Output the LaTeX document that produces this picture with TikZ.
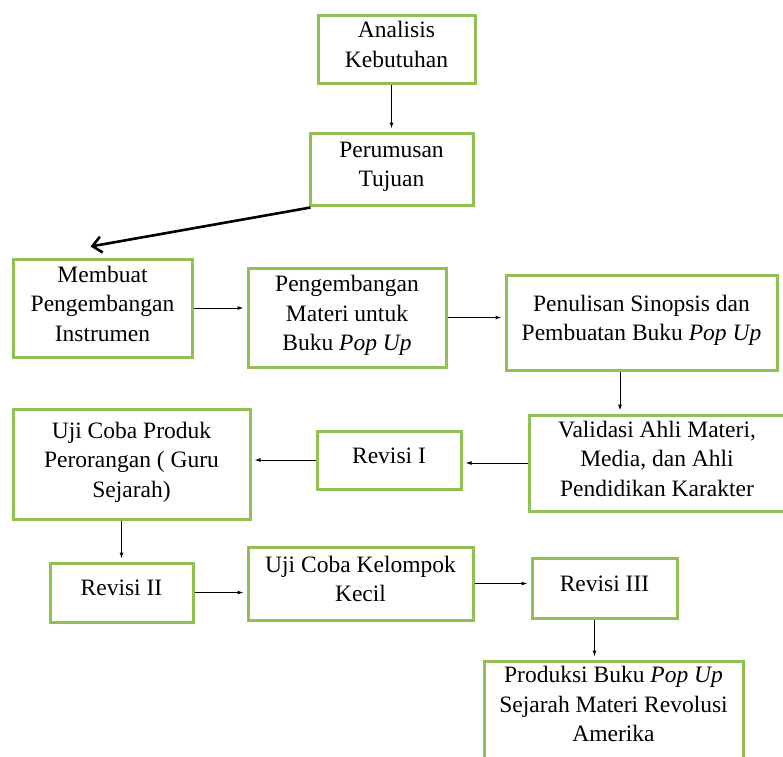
\documentclass[tikz,border=0pt]{standalone}
\usepackage{fontspec}
\setmainfont{Liberation Serif}
\usetikzlibrary{arrows.meta}

\definecolor{boxgreen}{RGB}{146,192,82}

\begin{document}
\begin{tikzpicture}[
  x=1pt, y=-1pt,
  box/.style={draw=boxgreen, line width=3pt, align=center, inner sep=2pt,
    text depth=9pt, font=\fontsize{23.5}{29.5}\selectfont},
  arrow/.style={-{Latex[length=6pt,width=4pt]}, line width=1pt, shorten >=3pt},
  bigarrow/.style={-{Straight Barb[length=9pt,width=16pt]}, line width=2.6pt}
]
\useasboundingbox (0,0) rectangle (783,756);

\node[box, minimum width=157pt, minimum height=68pt] (ana) at (396.5,49) {Analisis\\Kebutuhan};
\node[box, minimum width=163pt, minimum height=72pt] (per) at (391.5,169) {Perumusan\\Tujuan};
\node[box, minimum width=179pt, minimum height=98pt] (ins) at (102.5,308) {Membuat\\Pengembangan\\Instrumen};
\node[box, minimum width=198pt, minimum height=99pt] (mat) at (347,317.5) {Pengembangan\\Materi untuk\\Buku \textit{Pop Up}};
\node[box, minimum width=271pt, minimum height=95pt] (sin) at (641.5,322.5) {Penulisan Sinopsis dan\\Pembuatan Buku \textit{Pop Up}};
\node[box, minimum width=256pt, minimum height=96pt] (val) at (657,463) {Validasi Ahli Materi,\\Media, dan Ahli\\Pendidikan Karakter};
\node[box, minimum width=144pt, minimum height=58pt] (rv1) at (389,460) {Revisi I};
\node[box, minimum width=237pt, minimum height=110pt] (uji) at (131.5,464) {Uji Coba Produk\\Perorangan ( Guru\\Sejarah)};
\node[box, minimum width=143pt, minimum height=59pt] (rv2) at (121.5,592.5) {Revisi II};
\node[box, minimum width=225pt, minimum height=73pt] (kel) at (360.5,583.5) {Uji Coba Kelompok\\Kecil};
\node[box, minimum width=145pt, minimum height=60pt] (rv3) at (604.5,588) {Revisi III};
\node[box, minimum width=259pt, minimum height=120pt, text depth=34pt] (pro) at (613.5,721) {Produksi Buku \textit{Pop Up}\\Sejarah Materi Revolusi\\Amerika};

\draw[arrow] (per.north |- ana.south) -- (per.north);
\draw[bigarrow] ([xshift=2pt,yshift=-1pt]per.south west) -- ([xshift=-12pt,yshift=11pt]ins.north);
\draw[arrow] (ins.east) -- (ins.east -| mat.west);
\draw[arrow] (mat.east) -- (mat.east -| sin.west);
\draw[arrow] ([xshift=-21.5pt]sin.south) -- ([xshift=-21.5pt]sin.south |- val.north);
\draw[arrow] (val.west) -- (val.west -| rv1.east);
\draw[arrow] (rv1.west) -- (rv1.west -| uji.east);
\draw[arrow] (rv2.north |- uji.south) -- (rv2.north);
\draw[arrow] (rv2.east) -- (rv2.east -| kel.west);
\draw[arrow] (kel.east) -- (kel.east -| rv3.west);
\draw[arrow] ([xshift=-10pt]rv3.south) -- ([xshift=-10pt]rv3.south |- pro.north);
\end{tikzpicture}
\end{document}
